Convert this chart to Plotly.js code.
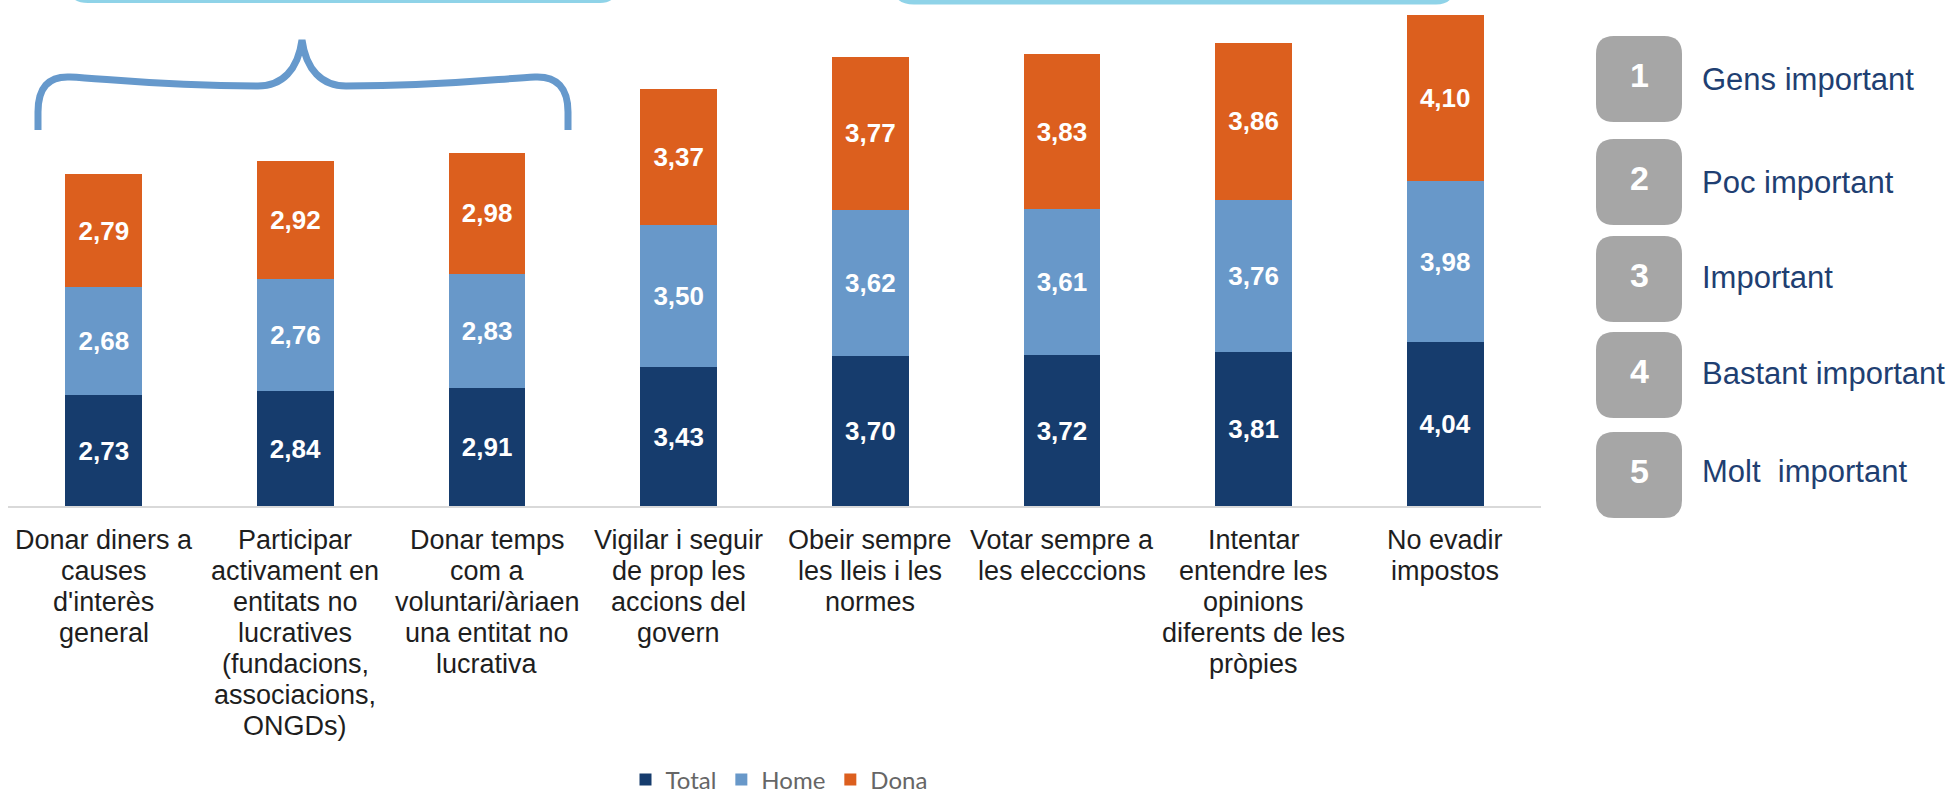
<!DOCTYPE html>
<html>
<head>
<meta charset="utf-8">
<script src="https://cdn.plot.ly/plotly-3.0.1.min.js"></script>
<style>
  body { margin: 0; background: #fff; }
  #plotArea { width: 1959px; height: 797px; }
</style>
</head>
<body>
<div id="plotArea"></div>
<script>
// category labels, one line per <br> as in the original chart
var tickLabels = [
    "Donar diners a<br>causes<br>d'interès<br>general",
    "Participar<br>activament en<br>entitats no<br>lucratives<br>(fundacions,<br>associacions,<br>ONGDs)",
    "Donar temps<br>com a<br>voluntari/àriaen<br>una entitat no<br>lucrativa",
    "Vigilar i seguir<br>de prop les<br>accions del<br>govern",
    "Obeir sempre<br>les lleis i les<br>normes",
    "Votar sempre a<br>les elecccions",
    "Intentar<br>entendre les<br>opinions<br>diferents de les<br>pròpies",
    "No evadir<br>impostos"
];
var categories = tickLabels.map(function(s) { return s.replace(/<br>/g, " "); });

var total = [2.73, 2.84, 2.91, 3.43, 3.70, 3.72, 3.81, 4.04];
var home  = [2.68, 2.76, 2.83, 3.50, 3.62, 3.61, 3.76, 3.98];
var dona  = [2.79, 2.92, 2.98, 3.37, 3.77, 3.83, 3.86, 4.10];

var seriesNames = ["Total", "Home", "Dona"];
var seriesColors = ["#163c6d", "#6898c9", "#dc5f1e"];

// importance scale shown on the right
var scaleNumbers = ["1", "2", "3", "4", "5"];
var scaleLabels = ["Gens important", "Poc important", "Important", "Bastant important", "Molt&nbsp; important"];

// plot area in pixels, used to place the drawings outside the axes
var L = 8, W = 1533, H = 506;
function fx(p) { return (p - L) / W; }
function fy(p) { return (H - p) / H; }
function toPaper(d) {
    var n = 0;
    return d.replace(/-?\d+(\.\d+)?/g, function(m) {
        var v = parseFloat(m);
        var out = (n % 2 === 0) ? fx(v) : fy(v);
        n++;
        return out.toFixed(5);
    });
}

var values = [total, home, dona];
var data = values.map(function(vals, i) {
    return {
        x: categories,
        y: vals,
        name: seriesNames[i],
        type: "bar",
        marker: {color: seriesColors[i]},
        texttemplate: "%{y:.2f}",
        textposition: "inside",
        insidetextanchor: "middle",
        textangle: 0,
        constraintext: "none",
        textfont: {family: "Liberation Sans, Arial", size: 26, color: "#ffffff", weight: "bold"},
        hoverinfo: "skip"
    };
});

var annotations = [];
// category labels, line by line under each bar
tickLabels.forEach(function(lbl, i) {
    lbl.split("<br>").forEach(function(line, j) {
        annotations.push({
            x: categories[i], xref: "x",
            y: fy(540 + 31 * j), yref: "paper",
            text: line, showarrow: false,
            xanchor: "center", yanchor: "middle",
            font: {family: "Liberation Sans, Arial", size: 27, color: "#1e1e1e"}
        });
    });
});

var shapes = [];
var boxTops = [36, 139, 236, 332, 432];
var boxLeft = 1596, boxSize = 86, rad = 18;
var labelY = [77, 180, 276, 371, 469];
scaleNumbers.forEach(function(num, i) {
    var x0 = boxLeft, y0 = boxTops[i], s = boxSize, r = rad;
    var d = "M" + (x0 + r) + "," + y0 + " L" + (x0 + s - r) + "," + y0 +
        " Q" + (x0 + s) + "," + y0 + " " + (x0 + s) + "," + (y0 + r) +
        " L" + (x0 + s) + "," + (y0 + s - r) +
        " Q" + (x0 + s) + "," + (y0 + s) + " " + (x0 + s - r) + "," + (y0 + s) +
        " L" + (x0 + r) + "," + (y0 + s) +
        " Q" + x0 + "," + (y0 + s) + " " + x0 + "," + (y0 + s - r) +
        " L" + x0 + "," + (y0 + r) +
        " Q" + x0 + "," + y0 + " " + (x0 + r) + "," + y0 + " Z";
    shapes.push({type: "path", xref: "paper", yref: "paper", path: toPaper(d),
        fillcolor: "#a6a6a6", line: {width: 0}, layer: "above"});
    annotations.push({
        x: fx(x0 + s / 2), y: fy(y0 + s / 2 - 4), xref: "paper", yref: "paper",
        text: num, showarrow: false, xanchor: "center", yanchor: "middle",
        font: {family: "Liberation Sans, Arial", size: 34, color: "#ffffff", weight: "bold"}
    });
    annotations.push({
        x: fx(1700), y: fy(labelY[i] + 2), xref: "paper", yref: "paper",
        text: scaleLabels[i], showarrow: false, xanchor: "left", yanchor: "middle",
        font: {family: "Liberation Sans, Arial", size: 31, color: "#1f3f72"}
    });
});

// curly brace over the first three bars
shapes.push({type: "path", xref: "paper", yref: "paper", layer: "above",
    path: toPaper("M38,130 L38,112 C38,88 48,76 70,77 C110,79 160,86 258,86 C282,86 298,70 302,40 " +
        "C306,70 322,86 346,86 C445,86 495,79 535,77 C557,76 568,88 568,112 L568,130"),
    line: {color: "#6699cc", width: 7}});
// bottoms of the boxes cut off at the top edge
shapes.push({type: "path", xref: "paper", yref: "paper", layer: "above",
    path: toPaper("M72,-8 Q74,1 88,1 L600,1 Q612,1 614,-8"),
    line: {color: "#8fd3e8", width: 4}});
shapes.push({type: "path", xref: "paper", yref: "paper", layer: "above",
    path: toPaper("M897,-8 Q899,2 914,2 L1436,2 Q1449,2 1451,-8"),
    line: {color: "#8fd3e8", width: 5}});

var layout = {
    width: 1959,
    height: 797,
    margin: {l: L, r: 1959 - L - W, t: 0, b: 797 - H, autoexpand: false},
    barmode: "stack",
    bargap: 0.6,
    separators: ",.",
    paper_bgcolor: "#ffffff",
    plot_bgcolor: "#ffffff",
    xaxis: {
        type: "category",
        showline: true, linecolor: "#d9d9d9", linewidth: 2,
        ticks: "", showticklabels: false, showgrid: false
    },
    yaxis: {range: [0, 12.5], visible: false, showgrid: false, zeroline: false},
    showlegend: true,
    legend: {
        orientation: "h", traceorder: "normal",
        x: fx(779), xanchor: "center",
        y: fy(780), yanchor: "middle",
        font: {family: "Lato, Liberation Sans", size: 24, color: "#666666"}
    },
    annotations: annotations,
    shapes: shapes
};

Plotly.newPlot("plotArea", data, layout, {displayModeBar: false, staticPlot: true});
</script>
</body>
</html>
